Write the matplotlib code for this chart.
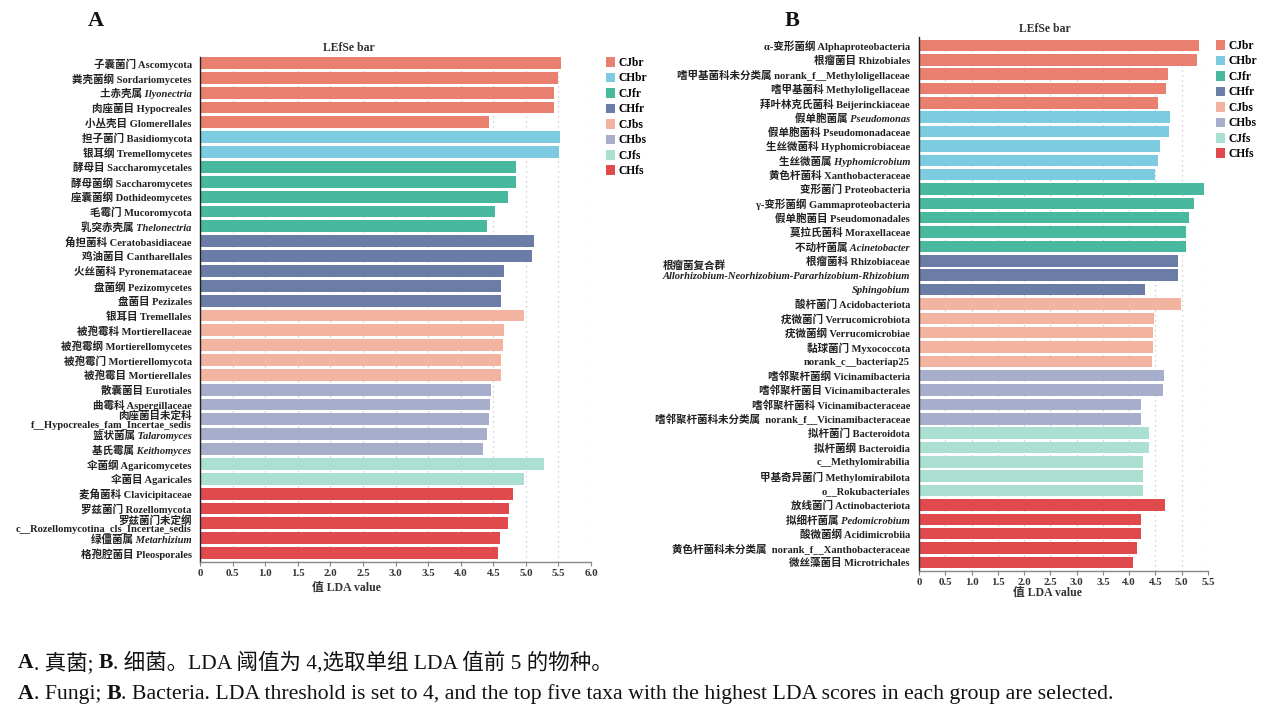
import numpy as np
import matplotlib
matplotlib.use("Agg")
import matplotlib.pyplot as plt
from matplotlib.patches import Patch

FONTS = ['Liberation Serif', 'Noto Sans CJK SC', 'DejaVu Sans']
plt.rcParams['font.family'] = FONTS

# groups and colours
group_names = ['CJbr', 'CHbr', 'CJfr', 'CHfr', 'CJbs', 'CHbs', 'CJfs', 'CHfs']
group_colors = ['#E9806F', '#7DCBE0', '#48B99E', '#6B7DA6',
                '#F3B3A1', '#A6AECB', '#AADFD1', '#E04A4C']

# panel A - fungi
fungi_labels = [
    '子囊菌门 Ascomycota', '粪壳菌纲 Sordariomycetes', '土赤壳属 Ilyonectria',
    '肉座菌目 Hypocreales', '小丛壳目 Glomerellales',
    '担子菌门 Basidiomycota', '银耳纲 Tremellomycetes',
    '酵母目 Saccharomycetales', '酵母菌纲 Saccharomycetes', '座囊菌纲 Dothideomycetes',
    '毛霉门 Mucoromycota', '乳突赤壳属 Thelonectria',
    '角担菌科 Ceratobasidiaceae', '鸡油菌目 Cantharellales', '火丝菌科 Pyronemataceae',
    '盘菌纲 Pezizomycetes', '盘菌目 Pezizales',
    '银耳目 Tremellales', '被孢霉科 Mortierellaceae', '被孢霉纲 Mortierellomycetes',
    '被孢霉门 Mortierellomycota', '被孢霉目 Mortierellales',
    '散囊菌目 Eurotiales', '曲霉科 Aspergillaceae',
    '肉座菌目未定科\nf__Hypocreales_fam_Incertae_sedis',
    '篮状菌属 Talaromyces', '基氏霉属 Keithomyces',
    '伞菌纲 Agaricomycetes', '伞菌目 Agaricales',
    '麦角菌科 Clavicipitaceae', '罗兹菌门 Rozellomycota',
    '罗兹菌门未定纲\nc__Rozellomycotina_cls_Incertae_sedis',
    '绿僵菌属 Metarhizium', '格孢腔菌目 Pleosporales',
]
fungi_lda = [5.54, 5.49, 5.43, 5.43, 4.43,
             5.53, 5.51,
             4.85, 4.85, 4.73, 4.53, 4.40,
             5.12, 5.09, 4.66, 4.62, 4.62,
             4.97, 4.67, 4.65, 4.62, 4.62,
             4.46, 4.45, 4.44, 4.40, 4.34,
             5.28, 4.97,
             4.80, 4.74, 4.72, 4.60, 4.58]
fungi_group = [0] * 5 + [1] * 2 + [2] * 5 + [3] * 5 + [4] * 5 + [5] * 5 + [6] * 2 + [7] * 5
fungi_italic = [2, 11, 25, 26, 32]

# panel B - bacteria
bact_labels = [
    'α-变形菌纲 Alphaproteobacteria', '根瘤菌目 Rhizobiales',
    '嗜甲基菌科未分类属 norank_f__Methyloligellaceae', '嗜甲基菌科 Methyloligellaceae',
    '拜叶林克氏菌科 Beijerinckiaceae',
    '假单胞菌属 Pseudomonas', '假单胞菌科 Pseudomonadaceae', '生丝微菌科 Hyphomicrobiaceae',
    '生丝微菌属 Hyphomicrobium', '黄色杆菌科 Xanthobacteraceae',
    '变形菌门 Proteobacteria', 'γ-变形菌纲 Gammaproteobacteria', '假单胞菌目 Pseudomonadales',
    '莫拉氏菌科 Moraxellaceae', '不动杆菌属 Acinetobacter',
    '根瘤菌科 Rhizobiaceae',
    'Allorhizobium-Neorhizobium-Pararhizobium-Rhizobium',
    'Sphingobium',
    '酸杆菌门 Acidobacteriota', '疣微菌门 Verrucomicrobiota', '疣微菌纲 Verrucomicrobiae',
    '黏球菌门 Myxococcota', 'norank_c__bacteriap25',
    '嗜邻聚杆菌纲 Vicinamibacteria', '嗜邻聚杆菌目 Vicinamibacterales',
    '嗜邻聚杆菌科 Vicinamibacteraceae', '嗜邻聚杆菌科未分类属  norank_f__Vicinamibacteraceae',
    '拟杆菌门 Bacteroidota', '拟杆菌纲 Bacteroidia', 'c__Methylomirabilia',
    '甲基奇异菌门 Methylomirabilota', 'o__Rokubacteriales',
    '放线菌门 Actinobacteriota', '拟细杆菌属 Pedomicrobium', '酸微菌纲 Acidimicrobiia',
    '黄色杆菌科未分类属  norank_f__Xanthobacteraceae', '微丝藻菌目 Microtrichales',
]
# Chinese name written on its own line above the long Allorhizobium label
complex_row = 16
complex_cn = '根瘤菌复合群'
bact_lda = [5.32, 5.29, 4.73, 4.70, 4.54,
            4.77, 4.75, 4.59, 4.54, 4.49,
            5.43, 5.23, 5.13, 5.08, 5.08,
            4.92, 4.92, 4.30,
            4.98, 4.48, 4.46, 4.46, 4.44,
            4.66, 4.64, 4.23, 4.22,
            4.38, 4.37, 4.27, 4.26, 4.26,
            4.69, 4.22, 4.22, 4.14, 4.08]
bact_group = [0] * 5 + [1] * 5 + [2] * 5 + [3] * 3 + [4] * 5 + [5] * 4 + [6] * 5 + [7] * 5
bact_italic = [5, 8, 14, 16, 17, 33]

W, H = 1266, 716
fig = plt.figure(figsize=(W / 100, H / 100), dpi=100)
fig.patch.set_facecolor('white')


def px(x0, y0, x1, y1):
    # pixel box (top-left origin) -> figure fraction rect
    return [x0 / W, 1 - y1 / H, (x1 - x0) / W, (y1 - y0) / H]


def lefse_panel(rect, labels, vals, groups, italic, xmax, ylim, pad):
    ax = fig.add_axes(rect)
    ypos = np.arange(len(labels))
    cols = [group_colors[g] for g in groups]
    ax.barh(ypos, vals, height=0.8, color=cols, zorder=2)
    ax.set_xlim(0, xmax)
    ax.set_ylim(*ylim)
    ax.set_yticks(ypos)
    ax.set_yticklabels(labels, fontsize=7.6, fontweight='bold', color='#222222',
                       linespacing=0.95)
    for i, t in enumerate(ax.get_yticklabels()):
        if i in italic:
            t.set_fontstyle('italic')
    ticks = np.arange(0, xmax + 0.01, 0.5)
    ax.set_xticks(ticks)
    ax.set_xticklabels(['0'] + ['%.1f' % v for v in ticks[1:]], fontsize=7.8,
                       fontweight='bold', color='#333333')
    ax.tick_params(axis='y', length=0, pad=pad)
    ax.tick_params(axis='x', length=3, width=0.8, color='#888888', pad=2)
    ax.xaxis.grid(True, linestyle=(0, (1, 3)), color='#c4c4c4', linewidth=0.9, zorder=0)
    ax.set_axisbelow(True)
    for s in ['top', 'right']:
        ax.spines[s].set_visible(False)
    ax.spines['left'].set_color('#222222')
    ax.spines['left'].set_linewidth(1.0)
    ax.spines['bottom'].set_color('#888888')
    ax.spines['bottom'].set_linewidth(1.0)
    return ax


axA = lefse_panel(px(200, 57, 591, 562), fungi_labels, fungi_lda, fungi_group,
                  fungi_italic, 6.0, (33.6, -0.4), 6)
axB = lefse_panel(px(919, 37.5, 1208, 571), bact_labels, bact_lda, bact_group,
                  bact_italic, 5.5, (36.6, -0.55), 6.5)

handles = [Patch(facecolor=c, edgecolor='none') for c in group_colors]
for (lx, ly) in [(606, 57), (1216, 40)]:
    fig.legend(handles, group_names, loc='upper left',
               bbox_to_anchor=(lx / W, 1 - ly / H), frameon=False,
               prop={'family': FONTS, 'weight': 'bold', 'size': 8.3},
               handlelength=0.75, handleheight=0.9, handletextpad=0.35,
               labelspacing=0.3, borderaxespad=0, borderpad=0)

# titles, axis labels, panel letters
for (tx, ty) in [(349, 48), (1045, 29)]:
    fig.text(tx / W, 1 - ty / H, 'LEfSe bar', ha='center', va='center',
             fontsize=8.5, fontweight='bold', color='#333333')
for (tx, ty) in [(346, 588), (1047, 593)]:
    fig.text(tx / W, 1 - ty / H, '值 LDA value', ha='center', va='center',
             fontsize=8.5, fontweight='bold', color='#333333')
fig.text(96 / W, 1 - 21 / H, 'A', ha='center', va='center', fontsize=16,
         fontweight='bold', color='#111111')
fig.text(792 / W, 1 - 21 / H, 'B', ha='center', va='center', fontsize=16,
         fontweight='bold', color='#111111')

fig.canvas.draw()
renderer = fig.canvas.get_renderer()

# put the Chinese name of the complex just above its latin tick label
bb = axB.get_yticklabels()[complex_row].get_window_extent(renderer=renderer)
fig.text(bb.x0 / W, (bb.y1 + 0.5) / H, complex_cn, ha='left', va='bottom',
         fontsize=7.6, fontweight='bold', color='#222222')


# caption, drawn piece by piece so A./B. can be bold
def caption(pieces, x, y, size):
    for txt, wt in pieces:
        t = fig.text(x / W, 1 - y / H, txt, ha='left', va='center', fontsize=size,
                     fontweight=wt, color='#111111')
        bb = t.get_window_extent(renderer=renderer)
        x += bb.width


caption([('A', 'bold'), ('. 真菌; ', 'normal'), ('B', 'bold'),
         ('. 细菌。LDA 阈值为 4,选取单组 LDA 值前 5 的物种。', 'normal')], 18, 663, 15.5)
caption([('A', 'bold'), ('. Fungi; ', 'normal'), ('B', 'bold'),
         ('. Bacteria. LDA threshold is set to 4, and the top five taxa with the highest '
          'LDA scores in each group are selected.', 'normal')], 18, 694, 15.7)

fig.savefig('out.png', dpi=100, facecolor='white')
